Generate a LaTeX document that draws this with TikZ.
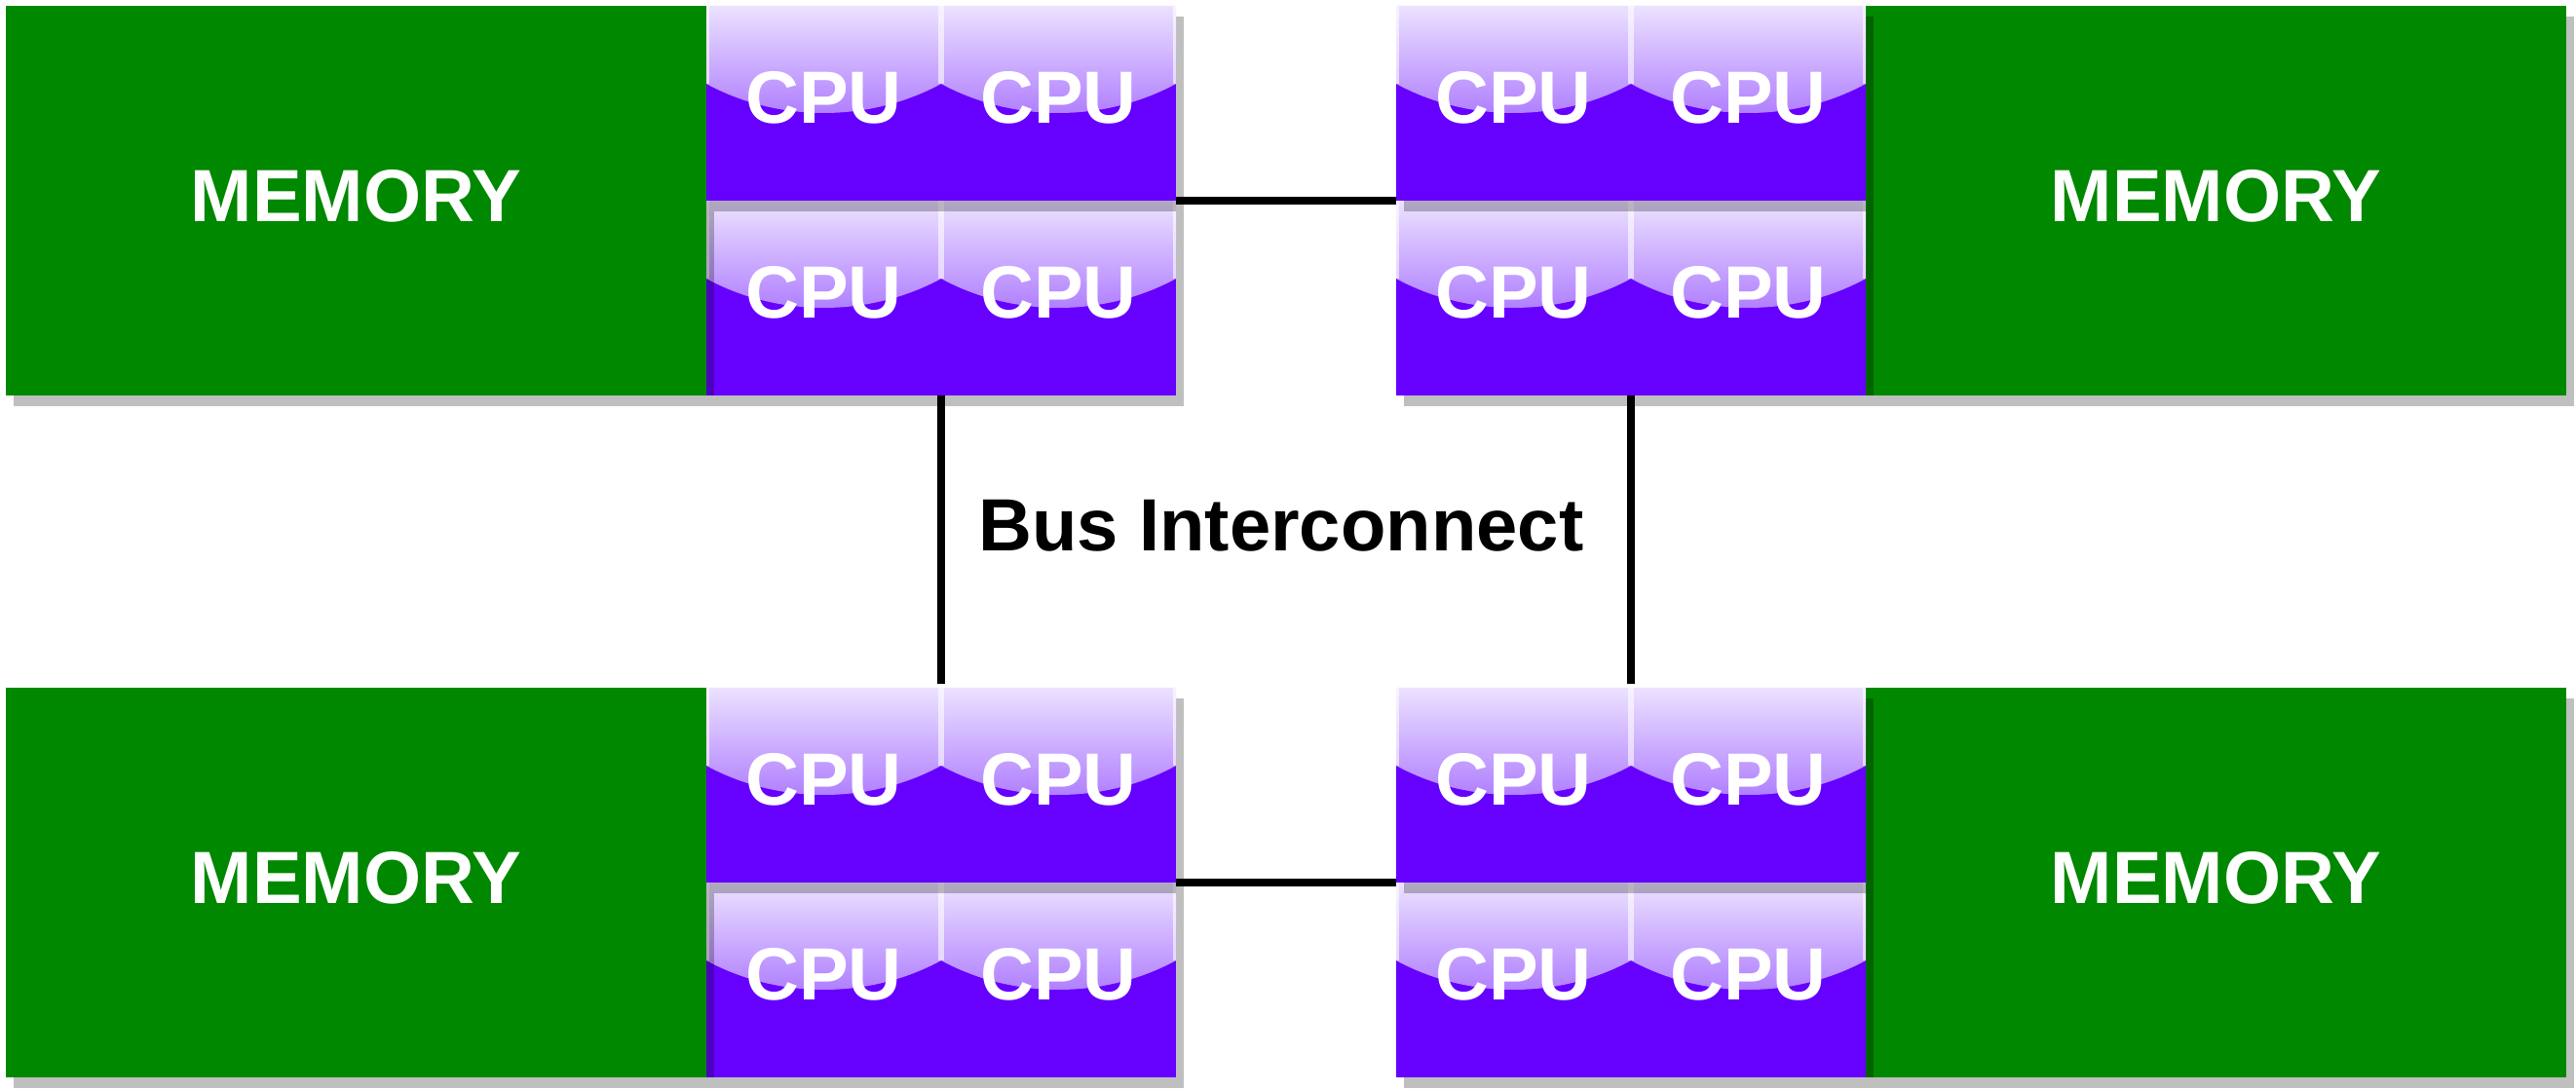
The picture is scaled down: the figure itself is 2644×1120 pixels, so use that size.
\documentclass[tikz,border=0pt]{standalone}
\usepackage{fontspec}
\setmainfont{Liberation Sans}
\usetikzlibrary{shadows}
\definecolor{memgreen}{RGB}{0,136,0}
\definecolor{cpupurple}{RGB}{102,0,255}
\definecolor{glosstop}{RGB}{236,226,255}
\definecolor{glossbot}{RGB}{128,48,255}
\newcommand\diafont{\fontsize{19}{23}\selectfont\bfseries}
\tikzset{
  shadowed/.style={drop shadow={shadow xshift=2pt, shadow yshift=-2.8pt, fill=black, opacity=0.25}},
  glossline/.style={draw=white, draw opacity=0.6, line width=0.8pt},
  cpubox/.style={rectangle, shadowed, fill=cpupurple, minimum width=60.25pt, minimum height=50pt,
    inner sep=0pt, outer sep=0pt, text=white, font=\diafont, text depth=3pt, anchor=north west,
    path picture={
      \shade[top color=glosstop, bottom color=glossbot]
        (path picture bounding box.north west) -- (path picture bounding box.north east)
        -- ([yshift=-20pt]path picture bounding box.north east)
        .. controls ([xshift=-18.25pt,yshift=-30pt]path picture bounding box.north east)
        and ([xshift=18.25pt,yshift=-30pt]path picture bounding box.north west)
        .. ([yshift=-20pt]path picture bounding box.north west) -- cycle;
      \draw[glossline]
        ([xshift=0.4pt]path picture bounding box.north west) -- ([xshift=0.4pt,yshift=-20pt]path picture bounding box.north west)
        ([xshift=-0.4pt]path picture bounding box.north east) -- ([xshift=-0.4pt,yshift=-20pt]path picture bounding box.north east);
    }},
  membox/.style={rectangle, shadowed, fill=memgreen, minimum width=179.75pt, minimum height=100pt,
    inner sep=0pt, outer sep=0pt, text=white, font=\diafont, text depth=2.5pt, anchor=north west},
  bus/.style={draw=black, line width=2pt},
  buslabel/.style={font=\diafont, text=black, inner sep=0pt}
}
\begin{document}
\begin{tikzpicture}[x=0.25pt, y=-0.25pt]
\useasboundingbox (0,0) rectangle (2644,1120);
% ---- top-left group
\node[cpubox] (tlC) at (725,206) {CPU};
\node[cpubox] (tlD) at (966,206) {CPU};
\node[membox] (memtl) at (6,6) {MEMORY};
\node[cpubox] (tlA) at (725,6) {CPU};
\node[cpubox] (tlB) at (966,6) {CPU};
% ---- bottom-left group
\node[cpubox] (blC) at (725,906) {CPU};
\node[cpubox] (blD) at (966,906) {CPU};
\node[membox] (membl) at (6,706) {MEMORY};
\node[cpubox] (blA) at (725,706) {CPU};
\node[cpubox] (blB) at (966,706) {CPU};
% ---- top-right group
\node[membox] (memtr) at (1915,6) {MEMORY};
\node[cpubox] (trC) at (1433,206) {CPU};
\node[cpubox] (trD) at (1674,206) {CPU};
\node[cpubox] (trA) at (1433,6) {CPU};
\node[cpubox] (trB) at (1674,6) {CPU};
% ---- bottom-right group
\node[membox] (membr) at (1915,706) {MEMORY};
\node[cpubox] (brC) at (1433,906) {CPU};
\node[cpubox] (brD) at (1674,906) {CPU};
\node[cpubox] (brA) at (1433,706) {CPU};
\node[cpubox] (brB) at (1674,706) {CPU};
% ---- interconnect
\draw[bus] (tlB.south east) -- (trA.south west);
\draw[bus] (blB.south east) -- (brA.south west);
\draw[bus] (tlD.south west) -- ([yshift=1pt]blB.north west);
\draw[bus] (trD.south west) -- ([yshift=1pt]brB.north west);
\node[buslabel] (buslbl) at (1315,540) {Bus Interconnect};
\end{tikzpicture}
\end{document}
